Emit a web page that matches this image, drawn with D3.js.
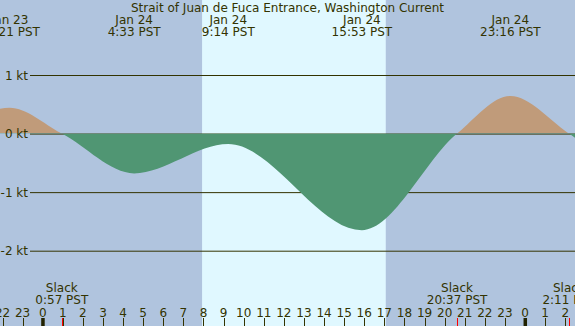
<!DOCTYPE html>
<html><head><meta charset="utf-8">
<script src="https://cdn.jsdelivr.net/npm/d3@7"></script>
<style>body{margin:0;overflow:hidden}svg{display:block}text{font-family:"DejaVu Sans",sans-serif;font-size:12px;fill:#333300}</style>
</head><body>
<svg id="c" width="575" height="326"></svg>
<script>
// hours relative to Jan 24 00:00 PST
const curveHours  = [-4.6, -1.65, 0.95, 4.55, 9.23, 15.88, 20.62, 23.27, 26.18, 29.1];
const curveValues = [0, 0.44, 0, -0.68, -0.18, -1.65, 0, 0.64, 0, -0.7];
const topLabelHours = [-1.65, 4.55, 9.233, 15.883, 23.267];
const topLabelDates = ["Jan 23", "Jan 24", "Jan 24", "Jan 24", "Jan 24"];
const topLabelTimes = ["22:21 PST", "4:33 PST", "9:14 PST", "15:53 PST", "23:16 PST"];
const slackHours = [0.95, 20.617, 26.183];
const slackTimes = ["0:57 PST", "20:37 PST", "2:11 PST"];
const hourTicks = d3.range(-2, 27);
const ktTicks = [1, 0, -1, -2];
const daylight = [7.93, 17.07];
const title = "Strait of Juan de Fuca Entrance, Washington Current";

const W = 575, H = 326;
const svg = d3.select("#c");
const x = d3.scaleLinear().domain([-2.125, 26.486]).range([0, W]);
const y = d3.scaleLinear().domain([-2, 1]).range([250.7, 75]);

svg.append("rect").attr("width", W).attr("height", H).attr("fill", "#b0c4de");
svg.append("rect").attr("x", x(daylight[0])).attr("y", 0)
  .attr("width", x(daylight[1]) - x(daylight[0])).attr("height", H).attr("fill", "#e0f8ff");

// grid lines
svg.selectAll("line.kt").data(ktTicks).enter().append("line")
  .attr("x1", 30).attr("x2", W).attr("y1", d => y(d) + 0.5).attr("y2", d => y(d) + 0.5)
  .attr("stroke", "#333300").attr("stroke-width", 1);

const defs = svg.append("defs");
defs.append("clipPath").attr("id", "above").append("rect")
  .attr("x", 0).attr("y", 0).attr("width", W).attr("height", y(0) - 0.5);
defs.append("clipPath").attr("id", "below").append("rect")
  .attr("x", 0).attr("y", y(0)).attr("width", W).attr("height", H - y(0));

const pts = curveHours.map((h, i) => [h, curveValues[i]]);
const area = d3.area().x(d => x(d[0])).y0(y(0)).y1(d => y(d[1])).curve(d3.curveMonotoneX);
svg.append("path").attr("d", area(pts)).attr("fill", "#c09b7a").attr("clip-path", "url(#above)");
svg.append("path").attr("d", area(pts)).attr("fill", "#509673").attr("clip-path", "url(#below)");

// y labels
svg.selectAll("text.kt").data(ktTicks).enter().append("text")
  .attr("x", 28).attr("y", d => y(d) + 4.5).attr("text-anchor", "end")
  .text(d => d + " kt");

// title
svg.append("text").attr("x", W / 2).attr("y", 12).attr("text-anchor", "middle").text(title);

// top labels
topLabelHours.forEach((h, i) => {
  svg.append("text").attr("x", x(h)).attr("y", 24).attr("text-anchor", "middle").text(topLabelDates[i]);
  svg.append("text").attr("x", x(h)).attr("y", 36).attr("text-anchor", "middle").text(topLabelTimes[i]);
});

// slack labels
slackHours.forEach((h, i) => {
  svg.append("text").attr("x", x(h)).attr("y", 292).attr("text-anchor", "middle").text("Slack");
  svg.append("text").attr("x", x(h)).attr("y", 304).attr("text-anchor", "middle").text(slackTimes[i]);
});

// hour ticks
hourTicks.forEach(h => {
  const hh = ((h % 24) + 24) % 24;
  svg.append("text").attr("x", x(h)).attr("y", 317).attr("text-anchor", "middle").text(hh);
  if (hh === 0) {
    svg.append("rect").attr("x", x(h) - 1.5).attr("y", 318).attr("width", 3.5).attr("height", 8).attr("fill", "#222200");
  } else {
    svg.append("line").attr("x1", Math.round(x(h)) + 0.5).attr("x2", Math.round(x(h)) + 0.5)
      .attr("y1", 318).attr("y2", H).attr("stroke", "#333300");
  }
});
slackHours.forEach(h => {
  svg.append("line").attr("x1", Math.round(x(h)) + 0.5).attr("x2", Math.round(x(h)) + 0.5)
    .attr("y1", 318).attr("y2", H).attr("stroke", "#ff0000").attr("stroke-width", 1);
});
</script>
</body></html>
